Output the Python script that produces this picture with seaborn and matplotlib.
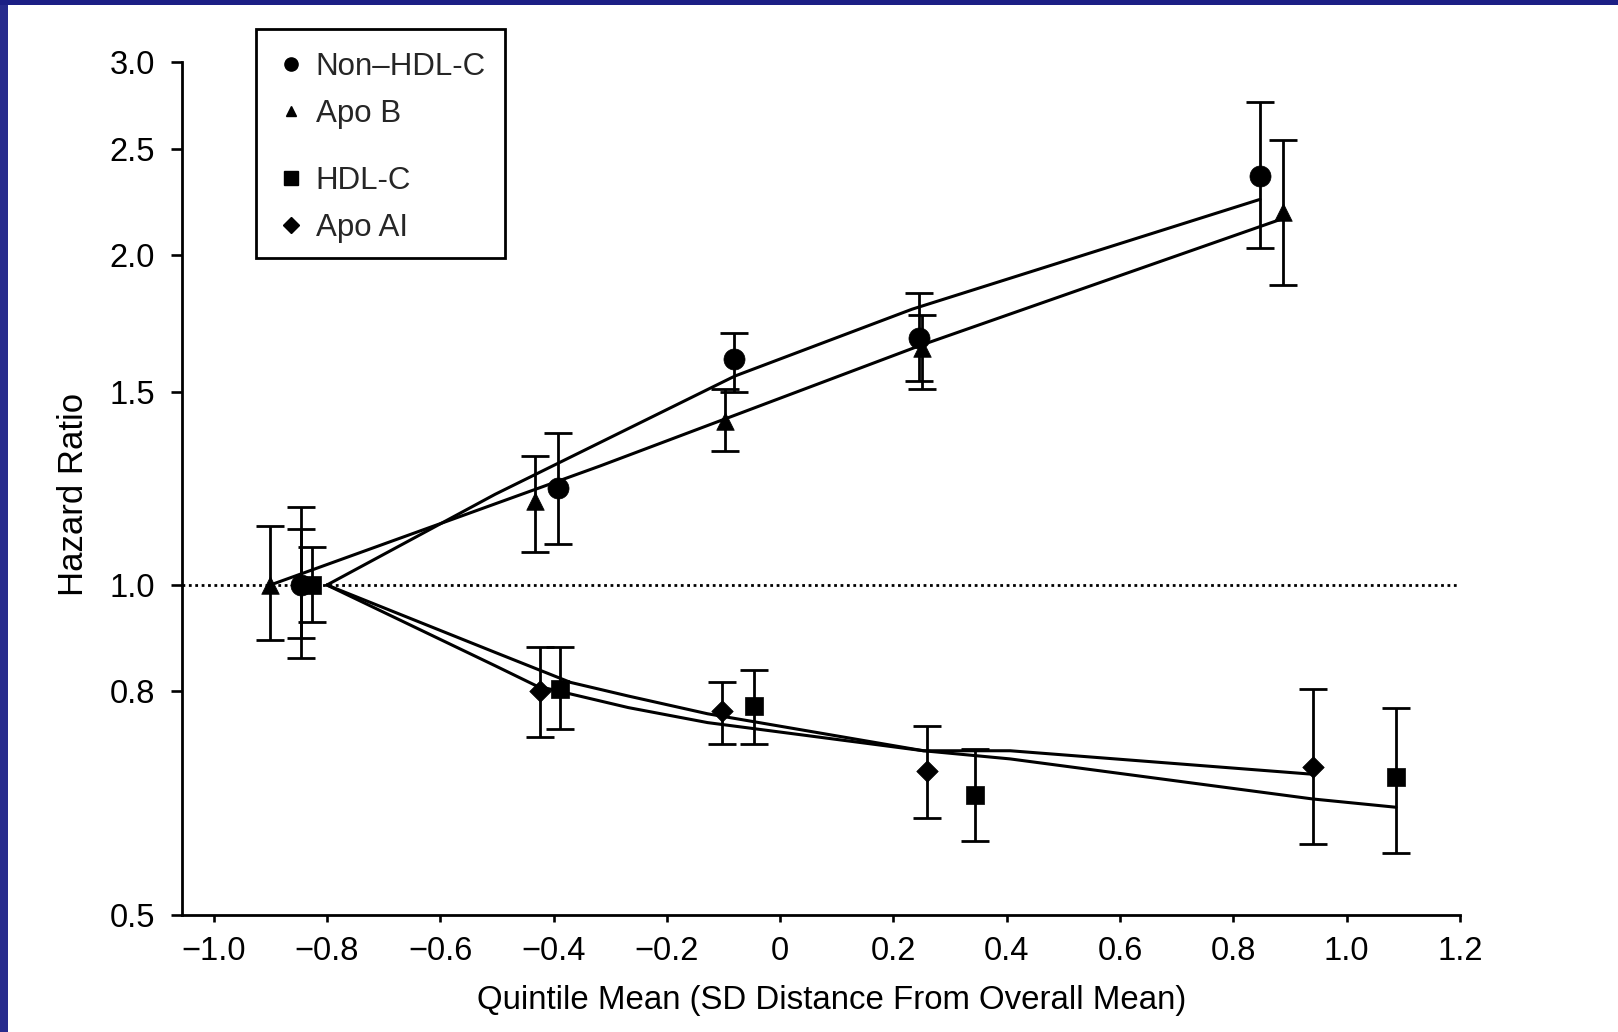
import matplotlib
matplotlib.use("Agg")
import matplotlib.pyplot as plt
import seaborn as sns
import pandas as pd
import numpy as np
from matplotlib.lines import Line2D
from matplotlib.patches import Rectangle
from matplotlib.ticker import FixedLocator, NullLocator

# ---------------- data ----------------
series_names = ["Non\u2013HDL-C", "Apo B", "HDL-C", "Apo AI"]

nonhdl_x = [-0.846, -0.392, -0.082, 0.245, 0.847]
nonhdl_hr = [1.0, 1.227, 1.607, 1.68, 2.361]
nonhdl_lo = [0.857, 1.09, 1.50, 1.535, 2.03]
nonhdl_hi = [1.177, 1.377, 1.699, 1.848, 2.757]

apob_x = [-0.90, -0.433, -0.097, 0.25, 0.888]
apob_hr = [1.0, 1.193, 1.411, 1.645, 2.189]
apob_lo = [0.891, 1.072, 1.325, 1.508, 1.878]
apob_hi = [1.132, 1.312, 1.508, 1.765, 2.549]

hdl_x = [-0.826, -0.389, -0.047, 0.344, 1.087]
hdl_hr = [1.0, 0.804, 0.775, 0.643, 0.668]
hdl_lo = [0.926, 0.739, 0.716, 0.584, 0.570]
hdl_hi = [1.082, 0.877, 0.837, 0.709, 0.772]

apoai_x = [-0.846, -0.424, -0.103, 0.26, 0.94]
apoai_hr = [1.0, 0.801, 0.768, 0.677, 0.682]
apoai_lo = [0.894, 0.726, 0.716, 0.613, 0.580]
apoai_hi = [1.124, 0.877, 0.816, 0.744, 0.804]

# fitted trend lines
fit_nonhdl_x = [-0.80, -0.503, -0.08, 0.233, 0.847]
fit_nonhdl_hr = [1.0, 1.21, 1.551, 1.785, 2.248]
fit_apob_x = [-0.90, -0.318, -0.098, 0.246, 0.885]
fit_apob_hr = [1.0, 1.284, 1.417, 1.653, 2.157]
fit_hdl_x = [-0.80, -0.503, -0.43, -0.268, -0.128, 0.253, 0.406, 0.94, 1.087]
fit_hdl_hr = [1.0, 0.844, 0.809, 0.773, 0.749, 0.706, 0.694, 0.638, 0.627]
fit_apoai_x = [-0.80, -0.503, -0.37, -0.268, -0.128, 0.253, 0.406, 0.94]
fit_apoai_hr = [1.0, 0.868, 0.815, 0.792, 0.763, 0.706, 0.706, 0.672]

y_ticks = [0.5, 0.8, 1.0, 1.5, 2.0, 2.5, 3.0]
y_tick_labels = ["0.5", "0.8", "1.0", "1.5", "2.0", "2.5", "3.0"]
x_ticks = [-1.0, -0.8, -0.6, -0.4, -0.2, 0.0, 0.2, 0.4, 0.6, 0.8, 1.0, 1.2]
x_tick_labels = ["\u22121.0", "\u22120.8", "\u22120.6", "\u22120.4", "\u22120.2", "0",
                 "0.2", "0.4", "0.6", "0.8", "1.0", "1.2"]
x_label = "Quintile Mean (SD Distance From Overall Mean)"
y_label = "Hazard Ratio"

# ---------------- style ----------------
sns.set_theme(style="ticks")
plt.rcParams["font.family"] = ["Liberation Sans", "DejaVu Sans"]
TICK_FS = 23.5
XLAB_FS = 23.8
YLAB_FS = 25
LEG_FS = 22.5

fig = plt.figure(figsize=(16.18, 10.32), dpi=100)
fig.patch.set_facecolor("white")
# blue slide border (left and top)
fig.add_artist(Rectangle((0, 0), 8 / 1618, 1, transform=fig.transFigure,
                         facecolor="#272b8d", edgecolor="none", zorder=-10))
fig.add_artist(Rectangle((0, 1 - 5 / 1032), 1, 5 / 1032, transform=fig.transFigure,
                         facecolor="#1c1f85", edgecolor="none", zorder=-10))

ax = fig.add_axes([181.6 / 1618, 1 - 915 / 1032, (1460 - 181.6) / 1618, (915 - 62) / 1032])
ax.set_facecolor("white")

# reference line
ax.axhline(1.0, color="black", lw=2.0, ls=(0, (1, 1.3)), zorder=1)

# fit lines
fits = [
    (series_names[0], fit_nonhdl_x, fit_nonhdl_hr),
    (series_names[1], fit_apob_x, fit_apob_hr),
    (series_names[2], fit_hdl_x, fit_hdl_hr),
    (series_names[3], fit_apoai_x, fit_apoai_hr),
]
fit_df = pd.concat([pd.DataFrame({"series": n, "x": xs, "hr": ys}) for n, xs, ys in fits],
                   ignore_index=True)
sns.lineplot(data=fit_df, x="x", y="hr", units="series", estimator=None, sort=False,
             color="black", lw=2.2, ax=ax, legend=False, zorder=3)

# points with CIs
pts = [
    (series_names[0], nonhdl_x, nonhdl_hr, nonhdl_lo, nonhdl_hi, "o", 230),
    (series_names[1], apob_x, apob_hr, apob_lo, apob_hi, "^", 160),
    (series_names[2], hdl_x, hdl_hr, hdl_lo, hdl_hi, "s", 185),
    (series_names[3], apoai_x, apoai_hr, apoai_lo, apoai_hi, "D", 120),
]
for name, xs, ys, lo, hi, mk, s in pts:
    ys_a = np.array(ys)
    ax.errorbar(xs, ys, yerr=[ys_a - np.array(lo), np.array(hi) - ys_a], fmt="none",
                ecolor="black", elinewidth=2.0, capsize=10, capthick=2.0, zorder=4)
    sns.scatterplot(x=xs, y=ys, marker=mk, s=s, color="black", edgecolor="black",
                    linewidth=0.5, ax=ax, zorder=5, legend=False)

# axes
ax.set_yscale("log")
ax.set_ylim(0.5, 3.0)
ax.set_xlim(-1.0565, 1.2)
ax.yaxis.set_major_locator(FixedLocator(y_ticks))
ax.yaxis.set_minor_locator(NullLocator())
ax.set_yticklabels(y_tick_labels)
ax.set_xticks(x_ticks)
ax.set_xticklabels(x_tick_labels)
for sp in ["top", "right"]:
    ax.spines[sp].set_visible(False)
for sp in ["left", "bottom"]:
    ax.spines[sp].set_color("black")
    ax.spines[sp].set_linewidth(2.0)
ax.tick_params(axis="y", direction="out", length=8, width=1.9, pad=11,
               labelsize=TICK_FS, colors="black")
ax.tick_params(axis="x", direction="out", length=5, width=1.9, pad=10,
               labelsize=TICK_FS, colors="black")
ax.set_xlabel(x_label, fontsize=XLAB_FS, color="black", labelpad=13)
ax.set_ylabel(y_label, fontsize=YLAB_FS, color="black", labelpad=14)
ax.xaxis.label.set_x(0.5085)
ax.yaxis.label.set_y(0.493)

# legend (two groups inside one frame)
def handle(mk, ms):
    return Line2D([], [], marker=mk, ls="none", color="black", ms=ms)

h1 = [handle("o", 9.5), handle("^", 7.5)]
h2 = [handle("s", 10.5), handle("D", 8.5)]
leg_kw = dict(frameon=False, fontsize=LEG_FS, handlelength=1.0, handletextpad=0.3,
              borderpad=0, borderaxespad=0, labelspacing=0.55, loc="upper left")
leg1 = fig.legend(h1, series_names[:2], bbox_to_anchor=(275 / 1618, 1 - 52 / 1032), **leg_kw)
leg2 = fig.legend(h2, series_names[2:], bbox_to_anchor=(275 / 1618, 1 - 166 / 1032), **leg_kw)
fig.add_artist(Rectangle((256 / 1618, 1 - 258 / 1032), (505 - 256) / 1618, (258 - 29) / 1032,
                         transform=fig.transFigure, fill=False, edgecolor="black", lw=2.0,
                         zorder=2))

fig.savefig("out.png", dpi=100, facecolor="white")
